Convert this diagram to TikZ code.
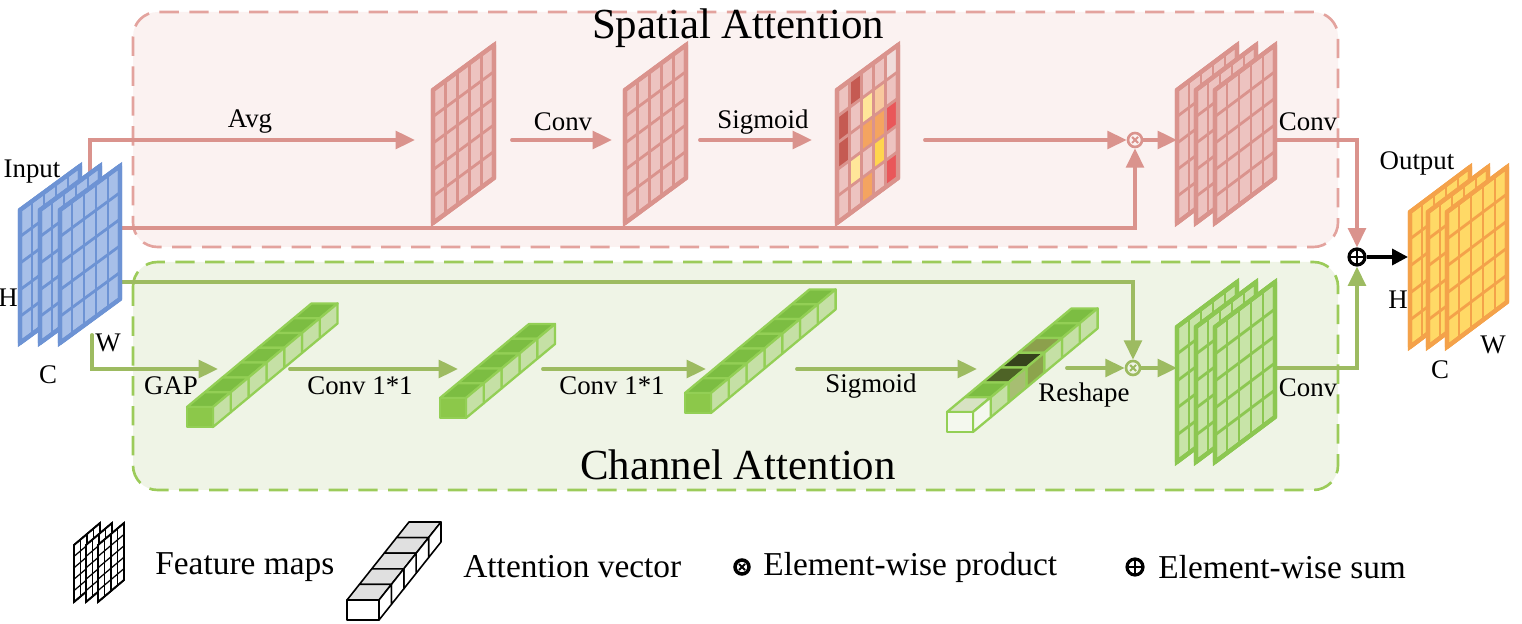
\documentclass[tikz,border=0pt]{standalone}
\usepackage{fontspec}
\setmainfont{Liberation Serif}
\usetikzlibrary{arrows.meta}

% colours
\definecolor{saFill}{HTML}{FBF2F1}
\definecolor{saEdge}{HTML}{E3A39E}
\definecolor{saLine}{HTML}{DA938D}
\definecolor{saCell}{HTML}{EDC3C0}
\definecolor{caFill}{HTML}{EFF4E6}
\definecolor{caEdge}{HTML}{9CCB5A}
\definecolor{caLine}{HTML}{9DBB61}
\definecolor{caMap}{HTML}{8CC751}
\definecolor{caCell}{HTML}{C8E4A8}
\definecolor{vecTop}{HTML}{7CBD42}
\definecolor{vecSide}{HTML}{C5E0A5}
\definecolor{vecFront}{HTML}{8CC84A}
\definecolor{vecEdge}{HTML}{93CF55}
\definecolor{inLine}{HTML}{6D93D4}
\definecolor{inCell}{HTML}{A7BFE8}
\definecolor{outLine}{HTML}{F4A24A}
\definecolor{outCell}{HTML}{FFD966}
\definecolor{sgDark}{HTML}{C55A52}
\definecolor{sgYel}{HTML}{FFE699}
\definecolor{sgLor}{HTML}{F8C99E}
\definecolor{sgOr}{HTML}{F4A460}
\definecolor{sgRed}{HTML}{E9575A}
\definecolor{sgGold}{HTML}{FFD54F}
\definecolor{sgPale}{HTML}{F0DCDA}
\definecolor{vPaleTop}{HTML}{D7E2C3}
\definecolor{vPaleSide}{HTML}{F4F8EE}
\definecolor{vMoss}{HTML}{4E6326}
\definecolor{vBlack}{HTML}{36431C}
\definecolor{vOlive}{HTML}{8CA04C}
\definecolor{vDim1}{HTML}{A7BE72}
\definecolor{vDim2}{HTML}{8CA44C}
\definecolor{legTop}{HTML}{E0E0E0}

% one feature-map sheet: x, y (bottom left), width, height, skew, columns, style, grid width, cell code
\newcommand{\fsheet}[9]{%
  \def\mapX{#1}\def\mapY{#2}\def\mapW{#3}\def\mapH{#4}\def\mapS{#5}\def\mapN{#6}%
  \fill[#7] (#1,#2) -- ++(0,-#4) -- ++(#3,-#5) -- ++(0,#4) -- cycle;
  #9
  \pgfmathtruncatemacro\mapM{#6-1}%
  \foreach \k in {1,...,\mapM}
    \draw[#7, fill=none, line width=#8] ({#1+\k*#3/#6},{#2-\k*#5/#6}) -- ++(0,-#4);
  \foreach \k in {1,...,4}
    \draw[#7, fill=none, line width=#8] (#1,{#2-\k*#4/5}) -- ++(#3,-#5);
  \draw[#7, fill=none, line join=round] (#1,#2) -- ++(0,-#4) -- ++(#3,-#5) -- ++(0,#4) -- cycle;
}
% coloured cell of the current sheet: column, row, colour
\newcommand{\scell}[3]{%
  \fill[#3] ({\mapX+#1*\mapW/\mapN},{\mapY-\mapH-#1*\mapS/\mapN+#2*\mapH/5}) -- ++({\mapW/\mapN},{-\mapS/\mapN}) -- ++(0,{\mapH/5}) -- ++({-\mapW/\mapN},{\mapS/\mapN}) -- cycle;}
% one cube of a vector: x0, y0, index, top, side, edge style
\newcommand{\vcube}[6]{%
  \filldraw[#6, fill=#4] ({#1+#3*\vdx},{#2-\vh-#3*\vdy}) -- ++(\vw,0) -- ++(\vdx,-\vdy) -- ++(-\vw,0) -- cycle;
  \filldraw[#6, fill=#5] ({#1+\vw+#3*\vdx},{#2-#3*\vdy}) -- ++(0,-\vh) -- ++(\vdx,-\vdy) -- ++(0,\vh) -- cycle;}
\newcommand{\attvec}[4]{%
  \pgfmathtruncatemacro\vlast{#3-1}%
  \foreach \c in {\vlast,...,0} {\vcube{#1}{#2}{\c}{vecTop}{vecSide}{#4}}
  \filldraw[#4, fill=vecFront] (#1,#2) rectangle ++(\vw,-\vh);}

\begin{document}
\begin{tikzpicture}[x=0.02cm, y=-0.02cm,
  lbl/.style={font=\fontsize{15.3}{18}\selectfont, inner sep=0pt},
  title/.style={font=\fontsize{24.4}{28}\selectfont, inner sep=0pt},
  legtxt/.style={font=\fontsize{19}{22}\selectfont, inner sep=0pt, anchor=west},
  saFrame/.style={draw=saEdge, fill=saFill, line width=1.5pt, dash pattern=on 11pt off 6pt, rounded corners=14pt},
  caFrame/.style={draw=caEdge, fill=caFill, line width=1.5pt, dash pattern=on 11pt off 6pt, rounded corners=14pt},
  saArrow/.style={draw=saLine, line width=2.2pt, line cap=round, -{Triangle[length=11pt,width=10pt]}},
  caArrow/.style={draw=caLine, line width=2.2pt, line cap=round, -{Triangle[length=11pt,width=10pt]}},
  sumArrow/.style={draw=black, line width=2pt, -{Triangle[length=9pt,width=9pt]}},
  inMap/.style={fill=inCell, draw=inLine, line width=2.4pt},
  saMap/.style={fill=saCell, draw=saLine, line width=2.4pt},
  caMapS/.style={fill=caCell, draw=caMap, line width=2.4pt},
  outMap/.style={fill=outCell, draw=outLine, line width=2.4pt},
  legMap/.style={fill=white, draw=black, line width=1pt},
  vecLine/.style={draw=vecEdge, line width=1.3pt, line join=round},
  legLine/.style={draw=black, line width=0.9pt, line join=round},
  mulop/.style={circle, draw=#1, line width=1.5pt, minimum size=0.28cm, inner sep=0pt,
    path picture={\draw[#1, line width=1.2pt] ([shift={(-0.06cm,-0.06cm)}]path picture bounding box.center) -- ([shift={(0.06cm,0.06cm)}]path picture bounding box.center)
      ([shift={(-0.06cm,0.06cm)}]path picture bounding box.center) -- ([shift={(0.06cm,-0.06cm)}]path picture bounding box.center);}},
  addop/.style={circle, draw=black, line width=1.8pt, minimum size=0.32cm, inner sep=0pt,
    path picture={\draw[line width=1.4pt] (path picture bounding box.north) -- (path picture bounding box.south)
      (path picture bounding box.west) -- (path picture bounding box.east);}}
]
\useasboundingbox (0,0) rectangle (1522,624);
\def\vw{26}\def\vh{20}\def\vdx{17.8}\def\vdy{14.8}

% attention frames
\draw[saFrame] (133,12) rectangle (1338,247);
\draw[caFrame] (133,262) rectangle (1338,490);
\node[title] (saTitle) at (738,28) {Spatial Attention};
\node[title] (caTitle) at (738,465) {Channel Attention};

% operators
\node[mulop=saLine] (mulS) at (1135,140) {};
\node[mulop=caLine] (mulC) at (1133,368) {};
\node[addop] (addO) at (1357,257) {};

% connector ends
\coordinate (inTop) at (90,178);
\coordinate (inMid) at (110,228);
\coordinate (inGrn) at (110,282);
\coordinate (inBot) at (92,335);
\coordinate (saIn1) at (415,140);
\coordinate (saOut1) at (512,140);
\coordinate (saIn2) at (612,140);
\coordinate (saOut2) at (700,140);
\coordinate (saIn3) at (812,140);
\coordinate (saOut3) at (925,140);
\coordinate (saIn4) at (1177,140);
\coordinate (saOut4) at (1275,140);
\coordinate (caIn1) at (218,369);
\coordinate (caOut1) at (290,369);
\coordinate (caIn2) at (458,369);
\coordinate (caOut2) at (543,369);
\coordinate (caIn3) at (706,369);
\coordinate (caOut3) at (797,369);
\coordinate (caIn4) at (977,369);
\coordinate (caOut4) at (1067,368);
\coordinate (caIn5) at (1177,368);
\coordinate (caOut5) at (1277,368);
\coordinate (outIn) at (1408,257);

% spatial branch
\draw[saArrow] (inTop) |- (saIn1);
\draw[saArrow] (saOut1) -- (saIn2);
\draw[saArrow] (saOut2) -- (saIn3);
\draw[saArrow] (saOut3) -- (mulS);
\draw[saArrow] (inMid) -| (mulS);
\draw[saArrow] (mulS) -- (saIn4);
\draw[saArrow] (saOut4) -| (addO);

% channel branch
\draw[caArrow] (inBot) |- (caIn1);
\draw[caArrow] (caOut1) -- (caIn2);
\draw[caArrow] (caOut2) -- (caIn3);
\draw[caArrow] (caOut3) -- (caIn4);
\draw[caArrow] (caOut4) -- (mulC);
\draw[caArrow] (inGrn) -| (mulC);
\draw[caArrow] (mulC) -- (caIn5);
\draw[caArrow] (caOut5) -| (addO);
\draw[sumArrow] (addO) -- (outIn);

% input maps
\foreach \px in {20,40,60} {\fsheet{\px}{343}{60}{133}{44}{5}{inMap}{1.6pt}{}}

% spatial maps
\fsheet{433}{223}{61}{133}{45}{5}{saMap}{1.6pt}{}
\fsheet{625}{223}{61}{133}{45}{5}{saMap}{1.6pt}{}
\fsheet{837}{223}{61}{133}{45}{5}{saMap}{1.6pt}{%
  \scell{0}{1}{sgDark}\scell{0}{2}{sgDark}\scell{1}{0}{sgDark}\scell{1}{3}{sgYel}
  \scell{2}{1}{sgYel}\scell{2}{2}{sgOr}\scell{2}{4}{sgOr}
  \scell{3}{1}{sgLor}\scell{3}{2}{sgOr}\scell{3}{3}{sgGold}
  \scell{4}{0}{sgPale}\scell{4}{2}{sgRed}\scell{4}{4}{sgRed}}
\foreach \px in {1177,1196,1215} {\fsheet{\px}{223}{60}{133}{45}{5}{saMap}{1.6pt}{}}

% channel vectors
\attvec{187}{427}{7}{vecLine}
\attvec{440}{418}{5}{vecLine}
\attvec{685}{413}{7}{vecLine}
\foreach \c/\tc/\sc in {6/vecTop/vecSide, 5/vecTop/vecSide, 4/vOlive/vecSide, 3/vBlack/vDim2,
  2/vMoss/vDim1, 1/vecTop/vecSide, 0/vPaleTop/vPaleSide}
  {\vcube{947}{432}{\c}{\tc}{\sc}{vecLine}}
\filldraw[vecLine, fill=vPaleSide] (947,432) rectangle ++(\vw,-\vh);
\foreach \px in {1177,1196,1215} {\fsheet{\px}{462}{60}{135}{45}{5}{caMapS}{1.6pt}{}}

% output maps
\foreach \px in {1410,1428,1447} {\fsheet{\px}{347}{60}{135}{45}{5}{outMap}{1.6pt}{}}

% labels
\node[lbl] (avgLbl) at (250,122) {Avg};
\node[lbl] (convLbl) at (563,122) {Conv};
\node[lbl] (sigLbl) at (763,122) {Sigmoid};
\node[lbl] (convSLbl) at (1308,122) {Conv};
\node[lbl] (gapLbl) at (171,386) {GAP};
\node[lbl] (c11Lbl) at (360,386) {Conv 1*1};
\node[lbl] (c12Lbl) at (612,386) {Conv 1*1};
\node[lbl] (sigCLbl) at (871,386) {Sigmoid};
\node[lbl] (reshLbl) at (1084,395) {Reshape};
\node[lbl] (convCLbl) at (1308,388) {Conv};
\node[lbl] (inLbl) at (32,172) {Input};
\node[lbl] (inH) at (8,298) {H};
\node[lbl] (inW) at (108,343) {W};
\node[lbl] (inC) at (48,375) {C};
\node[lbl] (outLbl) at (1417,163) {Output};
\node[lbl] (outH) at (1398,300) {H};
\node[lbl] (outW) at (1493,345) {W};
\node[lbl] (outC) at (1440,370) {C};

% legend
\foreach \px in {74,86,98} {\fsheet{\px}{602}{26}{57}{22}{4}{legMap}{0.7pt}{}}
\node[legtxt] (legMaps) at (155,567) {Feature maps};
\begin{scope}
  \def\vw{32}\def\vh{20}\def\vdx{12.4}\def\vdy{15.6}
  \foreach \c in {4,...,0} {\vcube{347}{620}{\c}{legTop}{white}{legLine}}
  \filldraw[legLine, fill=white] (347,620) rectangle ++(\vw,-\vh);
\end{scope}
\node[legtxt] (legVec) at (463,567) {Attention vector};
\node[mulop=black, line width=2pt] (legMul) at (742,567) {};
\node[legtxt] (legProd) at (763,567) {Element-wise product};
\node[addop] (legAdd) at (1135,567) {};
\node[legtxt] (legSum) at (1158,567) {Element-wise sum};
\end{tikzpicture}
\end{document}
